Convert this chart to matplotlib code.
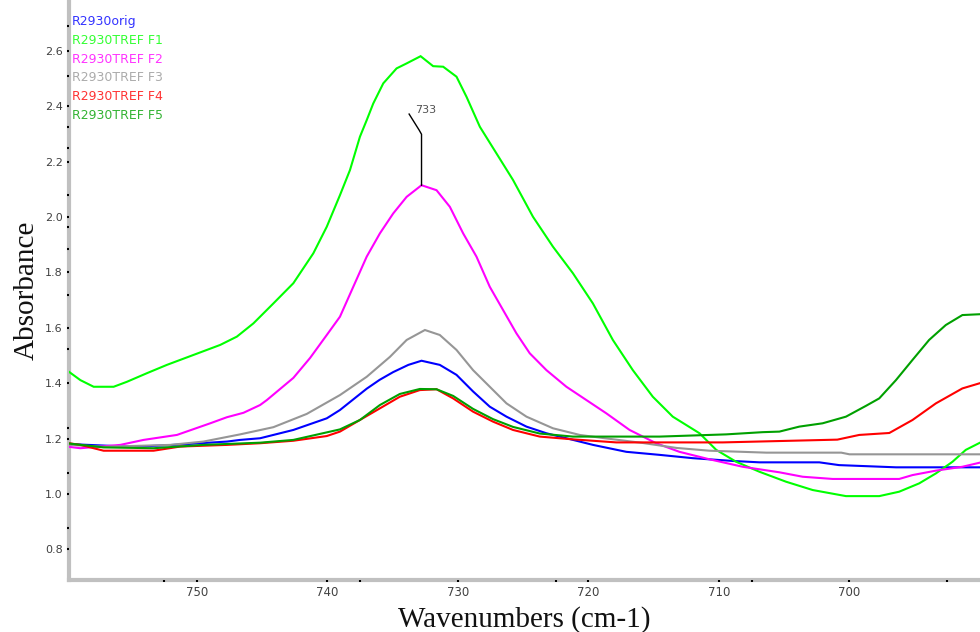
import matplotlib
matplotlib.use("Agg")
import matplotlib.pyplot as plt
from matplotlib.ticker import FixedLocator, FormatStrFormatter

# ---- spectra (wavenumber cm-1, absorbance) ----
wn_orig = [759.8, 754.85, 751.79, 747.70, 746.69, 745.16, 742.61, 740.05, 739.04, 736.99,
           736.0, 734.96, 733.8, 732.79, 731.39, 730.11, 728.84, 727.56, 726.28, 724.75,
           723.22, 721.69, 719.65, 717.10, 714.55, 712.00, 708.94, 706.90, 702.31, 700.8,
           696.43, 690.0]
abs_orig = [1.180, 1.170, 1.177, 1.189, 1.195, 1.201, 1.231, 1.273, 1.303, 1.380,
            1.412, 1.440, 1.466, 1.481, 1.466, 1.430, 1.370, 1.315, 1.279, 1.243,
            1.219, 1.201, 1.177, 1.152, 1.141, 1.129, 1.119, 1.114, 1.114, 1.104,
            1.096, 1.096]

wn_f1 = [759.8, 758.93, 757.91, 756.38, 755.36, 753.83, 752.30, 750.26, 748.22, 746.94,
         745.67, 744.14, 742.61, 741.08, 740.05, 739.04, 738.27, 737.51, 736.99, 736.49,
         735.72, 734.70, 733.93, 732.86, 731.90, 731.13, 730.11, 729.34, 728.32, 727.05,
         725.78, 724.25, 722.72, 721.19, 719.66, 718.13, 716.60, 715.07, 713.54, 711.49,
         710.21, 708.68, 706.90, 704.86, 702.82, 700.27, 697.72, 696.19, 694.66, 693.38,
         692.11, 691.09, 690.0]
abs_f1 = [1.441, 1.411, 1.387, 1.387, 1.405, 1.436, 1.466, 1.502, 1.538, 1.568,
          1.616, 1.688, 1.761, 1.869, 1.965, 2.079, 2.170, 2.290, 2.350, 2.410,
          2.483, 2.537, 2.555, 2.581, 2.545, 2.543, 2.507, 2.434, 2.326, 2.230,
          2.134, 2.001, 1.893, 1.797, 1.688, 1.556, 1.447, 1.351, 1.279, 1.219,
          1.159, 1.116, 1.080, 1.044, 1.014, 0.992, 0.992, 1.008, 1.038, 1.074,
          1.116, 1.159, 1.185]

wn_f2 = [759.8, 758.93, 755.87, 754.09, 751.53, 748.98, 747.70, 746.43, 745.16, 744.64,
         742.61, 741.33, 740.05, 739.04, 738.02, 736.99, 735.98, 734.96, 733.93, 732.79,
         731.64, 730.62, 729.60, 728.58, 727.56, 726.54, 725.52, 724.50, 723.22, 721.69,
         720.16, 718.63, 716.85, 714.81, 713.03, 710.73, 708.18, 705.37, 703.59, 701.29,
         696.19, 695.17, 693.38, 691.35, 690.0]
abs_f2 = [1.170, 1.165, 1.177, 1.195, 1.213, 1.255, 1.277, 1.293, 1.321, 1.339,
          1.419, 1.491, 1.574, 1.640, 1.748, 1.857, 1.941, 2.013, 2.073, 2.115,
          2.097, 2.037, 1.941, 1.857, 1.748, 1.664, 1.580, 1.508, 1.447, 1.387,
          1.339, 1.291, 1.231, 1.183, 1.152, 1.125, 1.098, 1.078, 1.062, 1.054,
          1.054, 1.068, 1.084, 1.098, 1.113]

wn_f3 = [759.8, 757.15, 752.04, 749.50, 746.69, 744.14, 741.58, 739.04, 736.99, 735.21,
         733.93, 732.53, 731.39, 730.11, 728.84, 727.56, 726.28, 724.75, 722.72, 720.67,
         718.91, 715.85, 713.25, 710.73, 706.37, 700.63, 700.0, 690.0]
abs_f3 = [1.177, 1.170, 1.177, 1.189, 1.215, 1.241, 1.289, 1.357, 1.423, 1.495,
          1.556, 1.592, 1.574, 1.520, 1.447, 1.387, 1.327, 1.279, 1.237, 1.213,
          1.202, 1.184, 1.166, 1.156, 1.149, 1.149, 1.143, 1.143]

wn_f4 = [759.8, 758.93, 758.16, 757.15, 753.32, 751.28, 747.70, 745.16, 742.61, 740.05,
         739.04, 737.51, 735.98, 734.45, 732.92, 731.64, 730.37, 728.84, 727.31, 725.78,
         723.73, 721.19, 717.87, 709.71, 700.93, 699.25, 696.95, 695.17, 693.38, 691.35,
         690.0]
abs_f4 = [1.183, 1.177, 1.168, 1.156, 1.156, 1.171, 1.177, 1.183, 1.192, 1.209,
          1.225, 1.267, 1.309, 1.351, 1.375, 1.378, 1.345, 1.297, 1.261, 1.231,
          1.207, 1.197, 1.186, 1.186, 1.196, 1.213, 1.220, 1.267, 1.327, 1.381,
          1.400]

wn_f5 = [759.8, 757.15, 753.32, 749.50, 745.16, 742.61, 739.04, 737.51, 735.98, 734.45,
         732.92, 731.64, 730.37, 728.84, 727.31, 725.78, 723.73, 721.19, 714.55, 709.45,
         706.65, 705.37, 703.85, 702.06, 700.27, 698.74, 697.72, 696.44, 695.17, 693.90,
         692.62, 691.35, 690.0]
abs_f5 = [1.182, 1.168, 1.165, 1.177, 1.185, 1.195, 1.233, 1.267, 1.321, 1.361,
          1.379, 1.378, 1.354, 1.307, 1.270, 1.242, 1.218, 1.207, 1.207, 1.215,
          1.223, 1.225, 1.243, 1.255, 1.279, 1.318, 1.345, 1.411, 1.484, 1.556,
          1.610, 1.646, 1.649]

series_names = ["R2930orig", "R2930TREF F1", "R2930TREF F2",
                "R2930TREF F3", "R2930TREF F4", "R2930TREF F5"]
series_colors = ["#0000ff", "#00ff00", "#ff00ff", "#969696", "#ff0000", "#00a000"]
series_wn = [wn_orig, wn_f1, wn_f2, wn_f3, wn_f4, wn_f5]
series_abs = [abs_orig, abs_f1, abs_f2, abs_f3, abs_f4, abs_f5]

y_major = [0.8, 1.0, 1.2, 1.4, 1.6, 1.8, 2.0, 2.2, 2.4, 2.6]
y_minor = [0.876, 1.074, 1.237, 1.522, 1.718, 1.883, 1.965, 2.08, 2.248, 2.326, 2.51, 2.69]
x_major = [750, 740, 730, 720, 710, 700]
x_minor = [752.5, 737.5, 722.5, 707.5, 692.5]

W, H = 980, 632
fig = plt.figure(figsize=(W / 100, H / 100), dpi=100)
ax = fig.add_axes([69 / W, 52 / H, 1 - 69 / W, 1 - 52 / H])

for wn, ab, col in zip(series_wn, series_abs, series_colors):
    ax.plot(wn, ab, color=col, lw=1.5, solid_joinstyle="miter")

ax.set_xlim(759.8, 690.0)
ax.set_ylim(0.689, 2.784)

for side in ("top", "right"):
    ax.spines[side].set_visible(False)
for side in ("left", "bottom"):
    ax.spines[side].set_color("#c0c0c0")
    ax.spines[side].set_linewidth(3)
    ax.spines[side].set_zorder(0.5)

ax.xaxis.set_major_locator(FixedLocator(x_major))
ax.xaxis.set_minor_locator(FixedLocator(x_minor))
ax.yaxis.set_major_locator(FixedLocator(y_major))
ax.yaxis.set_minor_locator(FixedLocator(y_minor))
ax.yaxis.set_major_formatter(FormatStrFormatter("%.1f"))
ax.xaxis.set_major_formatter(FormatStrFormatter("%d"))

ax.tick_params(which="both", direction="out", length=1.5, width=1.5, color="black")
ax.tick_params(axis="y", which="major", labelsize=8, labelcolor="#404040", pad=3)
ax.tick_params(axis="x", which="major", labelsize=8.5, labelcolor="#404040", pad=3)

ax.set_xlabel("Wavenumbers (cm-1)", family="Liberation Serif", fontsize=21,
              color="#111111", labelpad=5)
ax.set_ylabel("Absorbance", family="Liberation Serif", fontsize=21,
              color="#111111", labelpad=4)

# series names in the upper-left corner
for i, (name, col) in enumerate(zip(series_names, series_colors)):
    fig.text(72 / W, 1 - (21.7 + 18.7 * i) / H, name, color=col, fontsize=9,
             family="DejaVu Sans", va="center", ha="left", alpha=0.8)

# peak label on F2: vertical stem then a short lead bending to the upper left
i_pk = max(range(len(abs_f2)), key=lambda k: abs_f2[k])
pk_x, pk_y = wn_f2[i_pk], abs_f2[i_pk]
ax.plot([pk_x, pk_x, pk_x + 0.18, pk_x + 0.95],
        [pk_y, pk_y + 0.184, pk_y + 0.199, pk_y + 0.257],
        color="black", lw=1.0)
ax.text(pk_x - 0.35, pk_y + 0.273, f"{pk_x:.0f}", fontsize=8, color="#505050",
        ha="center", va="center")

fig.savefig("out.png", dpi=100)
